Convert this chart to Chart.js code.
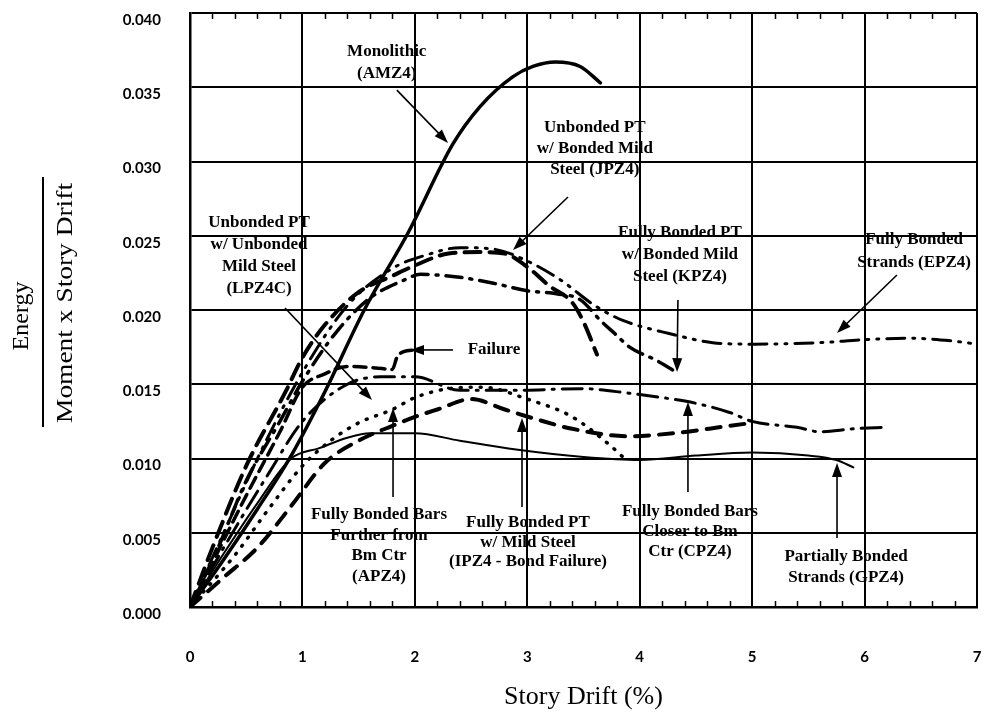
<!DOCTYPE html>
<html>
<head>
<meta charset="utf-8">
<script src="https://cdn.jsdelivr.net/npm/chart.js@4.4.1/dist/chart.umd.min.js"></script>
<style>
  body { margin: 0; background: #fff; }
  canvas { display: block; }
</style>
</head>
<body>
<canvas id="myChart" width="984" height="719"></canvas>
<script>
// story drift (%) and normalised energy
var amzDrift = [0, 0.3, 0.6, 0.9, 1.2, 1.55, 1.94, 2.34, 2.58, 2.87, 3.05, 3.25, 3.47, 3.65];
var amzEnergy = [0, 0.0032, 0.0066, 0.0102, 0.0145, 0.0200, 0.0252, 0.0312, 0.0337, 0.0357, 0.0364, 0.0367, 0.0364, 0.0353];

var gpzDrift = [0, 0.3, 0.6, 0.9, 1.15, 1.4, 1.6, 2.0, 2.4, 2.9, 3.5, 4.0, 4.5, 5.0, 5.5, 5.75, 5.9];
var gpzEnergy = [0, 0.0036, 0.0070, 0.0100, 0.0107, 0.0114, 0.0117, 0.0117, 0.0112, 0.0106, 0.0101, 0.0099, 0.0102, 0.0104, 0.0102, 0.0099, 0.0094];

var jpzDrift = [0, 0.2, 0.5, 0.85, 1.0, 1.2, 1.5, 1.8, 2.0, 2.3, 2.6, 2.8, 3.0, 3.2, 3.4, 3.5, 3.62];
var jpzEnergy = [0, 0.0040, 0.0095, 0.0145, 0.0168, 0.0190, 0.0212, 0.0223, 0.0230, 0.0238, 0.0239, 0.0238, 0.0229, 0.0216, 0.0205, 0.0192, 0.0170];

var epzDrift = [0, 0.3, 0.6, 1.0, 1.4, 1.8, 2.1, 2.4, 2.7, 3.0, 3.3, 3.6, 3.85, 4.27, 4.65, 5.0, 5.6, 6.0, 6.4, 6.8, 7.0];
var epzEnergy = [0, 0.0050, 0.0100, 0.0158, 0.0203, 0.0228, 0.0237, 0.0242, 0.0241, 0.0233, 0.0220, 0.0203, 0.0193, 0.0184, 0.0178, 0.0177, 0.0178, 0.0180, 0.0181, 0.0179, 0.0177];

var kpzDrift = [0, 0.25, 0.5, 0.8, 1.0, 1.3, 1.6, 1.9, 2.05, 2.4, 2.7, 3.0, 3.26, 3.47, 3.65, 3.78, 3.91, 4.15, 4.35];
var kpzEnergy = [0, 0.0040, 0.0085, 0.0125, 0.0152, 0.0185, 0.0208, 0.0220, 0.0224, 0.0222, 0.0218, 0.0213, 0.0211, 0.0207, 0.0193, 0.0184, 0.0175, 0.0166, 0.0157];

var lpzDrift = [0, 0.2, 0.5, 0.8, 1.0, 1.2, 1.4, 1.65, 1.8, 1.84, 1.9, 2.0];
var lpzEnergy = [0, 0.0030, 0.0075, 0.0118, 0.0148, 0.0157, 0.0162, 0.0161, 0.0160, 0.0168, 0.0172, 0.0173];

var apzDrift = [0, 0.4, 0.7, 1.0, 1.25, 1.5, 1.8, 2.0, 2.3, 2.6, 3.0, 3.4, 3.75, 3.85];
var apzEnergy = [0, 0.0035, 0.0066, 0.0095, 0.0112, 0.0124, 0.0133, 0.0141, 0.0147, 0.0148, 0.0140, 0.0128, 0.0108, 0.0101];

var cpzDrift = [0, 0.3, 0.7, 1.0, 1.4, 1.7, 2.0, 2.4, 2.9, 3.5, 3.9, 4.2, 4.45, 4.8, 5.0, 5.4, 5.6, 5.9, 6.2];
var cpzEnergy = [0, 0.0040, 0.0090, 0.0125, 0.0150, 0.0155, 0.0155, 0.0146, 0.0146, 0.0147, 0.0144, 0.0141, 0.0138, 0.0131, 0.0125, 0.0121, 0.0118, 0.0120, 0.0121];

var ipzDrift = [0, 0.3, 0.6, 0.9, 1.2, 1.5, 1.8, 2.0, 2.2, 2.5, 2.8, 3.1, 3.4, 3.9, 4.3, 4.8, 5.0];
var ipzEnergy = [0, 0.0020, 0.0040, 0.0068, 0.0097, 0.0112, 0.0122, 0.0128, 0.0133, 0.0140, 0.0133, 0.0126, 0.0120, 0.0115, 0.0117, 0.0122, 0.0124];

var xTicks = [0, 1, 2, 3, 4, 5, 6, 7];
var yTicks = [0, 0.005, 0.010, 0.015, 0.020, 0.025, 0.030, 0.035, 0.040];

// callout text, anchored in data units (x, y of first line)
var notes = [
	{ lines: ['Monolithic', '(AMZ4)'], x: 1.75, y: 0.03737, lh: 22, from: [1.84, 0.03481], to: [2.295, 0.03125] },
	{ lines: ['Unbonded PT', 'w/ Bonded Mild', 'Steel (JPZ4)'], x: 3.60, y: 0.03226, lh: 21, from: [3.362, 0.02761], to: [2.873, 0.02404] },
	{ lines: ['Unbonded PT', 'w/ Unbonded', 'Mild Steel', '(LPZ4C)'], x: 0.614, y: 0.02586, lh: 22, from: [0.845, 0.02013], to: [1.619, 0.01394] },
	{ lines: ['Failure'], x: 2.704, y: 0.01731, lh: 20, from: [2.339, 0.01731], to: [1.957, 0.01731] },
	{ lines: ['Fully Bonded Bars', 'Further from', 'Bm Ctr', '(APZ4)'], x: 1.681, y: 0.0062, lh: 20.5, from: [1.806, 0.00741], to: [1.806, 0.0134] },
	{ lines: ['Fully Bonded PT', 'w/ Mild Steel', '(IPZ4 - Bond Failure)'], x: 3.006, y: 0.00566, lh: 19.5, from: [2.953, 0.00673], to: [2.953, 0.01273] },
	{ lines: ['Fully Bonded Bars', 'Closer to Bm', 'Ctr (CPZ4)'], x: 4.447, y: 0.0064, lh: 20, from: [4.429, 0.00774], to: [4.429, 0.0138] },
	{ lines: ['Partially Bonded', 'Strands (GPZ4)'], x: 5.835, y: 0.00337, lh: 21, from: [5.755, 0.00465], to: [5.755, 0.0097] },
	{ lines: ['Fully Bonded PT', 'w/ Bonded Mild', 'Steel (KPZ4)'], x: 4.358, y: 0.02519, lh: 22, from: [4.34, 0.02067], to: [4.332, 0.01582] },
	{ lines: ['Fully Bonded', 'Strands (EPZ4)'], x: 6.44, y: 0.02471, lh: 23, from: [6.288, 0.02236], to: [5.755, 0.01845] }
];

function pts(xs, ys) {
	var out = [];
	for (var i = 0; i < xs.length; i++) out.push({ x: xs[i], y: ys[i] });
	return out;
}

function line(label, xs, ys, width, dash) {
	return {
		label: label,
		data: pts(xs, ys),
		showLine: true,
		borderColor: '#000',
		backgroundColor: '#000',
		borderWidth: width,
		borderDash: dash,
		borderCapStyle: 'round',
		pointRadius: 0,
		cubicInterpolationMode: 'monotone'
	};
}

var arrowsAndText = {
	id: 'arrowsAndText',
	afterDatasetsDraw: function (chart) {
		var ctx = chart.ctx;
		var xs = chart.scales.x, ys = chart.scales.y;
		var a = chart.chartArea;
		ctx.save();

		// small inward ticks every 0.2 on top and bottom edges
		ctx.strokeStyle = '#000';
		ctx.lineWidth = 1.5;
		ctx.setLineDash([]);
		for (var k = 1; k < 35; k++) {
			if (k % 5 === 0) continue;
			var px = Math.round(xs.getPixelForValue(k * 0.2)) + 0.5;
			ctx.beginPath();
			ctx.moveTo(px, a.bottom); ctx.lineTo(px, a.bottom - 6);
			ctx.moveTo(px, a.top); ctx.lineTo(px, a.top + 6);
			ctx.stroke();
		}

		ctx.fillStyle = '#000';
		ctx.textAlign = 'center';
		ctx.textBaseline = 'middle';
		ctx.font = 'bold 17px "Liberation Serif"';
		notes.forEach(function (n) {
			var cx = xs.getPixelForValue(n.x);
			var cy = ys.getPixelForValue(n.y);
			n.lines.forEach(function (t, i) {
				ctx.fillText(t, cx, cy + i * n.lh);
			});
			var x1 = xs.getPixelForValue(n.from[0]), y1 = ys.getPixelForValue(n.from[1]);
			var x2 = xs.getPixelForValue(n.to[0]), y2 = ys.getPixelForValue(n.to[1]);
			var ang = Math.atan2(y2 - y1, x2 - x1);
			var hl = 14, hw = 5;
			ctx.lineWidth = 1.6;
			ctx.beginPath();
			ctx.moveTo(x1, y1);
			ctx.lineTo(x2 - Math.cos(ang) * hl * 0.8, y2 - Math.sin(ang) * hl * 0.8);
			ctx.stroke();
			ctx.beginPath();
			ctx.moveTo(x2, y2);
			ctx.lineTo(x2 - Math.cos(ang) * hl - Math.sin(ang) * hw, y2 - Math.sin(ang) * hl + Math.cos(ang) * hw);
			ctx.lineTo(x2 - Math.cos(ang) * hl + Math.sin(ang) * hw, y2 - Math.sin(ang) * hl - Math.cos(ang) * hw);
			ctx.closePath();
			ctx.fill();
		});

		// y axis title as a fraction
		var mid = (a.top + a.bottom) / 2;
		ctx.font = '24px "Liberation Serif"';
		ctx.save();
		ctx.translate(22, mid + 6);
		ctx.rotate(-Math.PI / 2);
		ctx.fillText('Energy', 0, 0);
		ctx.restore();
		ctx.save();
		ctx.translate(66, mid - 7);
		ctx.rotate(-Math.PI / 2);
		var w = ctx.measureText('Moment x Story Drift').width;
		ctx.scale(240 / w, 1);
		ctx.fillText('Moment x Story Drift', 0, 0);
		ctx.restore();
		ctx.lineWidth = 2;
		ctx.beginPath();
		ctx.moveTo(43, mid - 133);
		ctx.lineTo(43, mid + 117);
		ctx.stroke();

		ctx.restore();
	}
};

const data = {
	datasets: [
		line('Monolithic (AMZ4)', amzDrift, amzEnergy, 3.5, []),
		line('Partially Bonded Strands (GPZ4)', gpzDrift, gpzEnergy, 2, []),
		line('Unbonded PT w/ Bonded Mild Steel (JPZ4)', jpzDrift, jpzEnergy, 4, [16, 9]),
		line('Fully Bonded Strands (EPZ4)', epzDrift, epzEnergy, 3, [18, 8, 2, 8, 2, 8]),
		line('Fully Bonded PT w/ Bonded Mild Steel (KPZ4)', kpzDrift, kpzEnergy, 3.5, [16, 8, 2, 8]),
		line('Unbonded PT w/ Unbonded Mild Steel (LPZ4C)', lpzDrift, lpzEnergy, 3.5, [12, 7]),
		line('Fully Bonded Bars Further from Bm Ctr (APZ4)', apzDrift, apzEnergy, 3.5, [1, 9]),
		line('Fully Bonded Bars Closer to Bm Ctr (CPZ4)', cpzDrift, cpzEnergy, 3, [20, 8, 2, 8]),
		line('Fully Bonded PT w/ Mild Steel (IPZ4)', ipzDrift, ipzEnergy, 4, [14, 10])
	]
};

const config = {
	type: 'scatter',
	data: data,
	plugins: [arrowsAndText],
	options: {
		responsive: false,
		animation: false,
		layout: { padding: { top: 13, right: 7, bottom: 0, left: 0 } },
		plugins: {
			legend: { display: false },
			tooltip: { enabled: false }
		},
		scales: {
			x: {
				type: 'linear',
				position: 'bottom',
				min: xTicks[0],
				max: xTicks[xTicks.length - 1],
				afterBuildTicks: function (s) { s.ticks = xTicks.map(function (v) { return { value: v }; }); },
				afterFit: function (s) { s.height = 112; },
				// invisible tick marks push the labels down without widening the side padding
				grid: { color: '#000', lineWidth: 2, drawTicks: true, tickLength: 41, tickColor: 'rgba(0,0,0,0)' },
				border: { color: '#000', width: 2.5 },
				ticks: {
					padding: 0,
					color: '#000',
					font: { family: 'Lato', weight: 'bold', size: 15 }
				},
				title: {
					display: true,
					text: 'Story Drift (%)',
					color: '#000',
					font: { family: 'Liberation Serif', size: 26 },
					padding: { top: 0, bottom: 6 }
				}
			},
			y: {
				min: yTicks[0],
				max: yTicks[yTicks.length - 1],
				afterBuildTicks: function (s) { s.ticks = yTicks.map(function (v) { return { value: v }; }); },
				afterFit: function (s) { s.width = 190; },
				grid: { color: '#000', lineWidth: 2, drawTicks: true, tickLength: 29, tickColor: 'rgba(0,0,0,0)' },
				border: { color: '#000', width: 2.5 },
				ticks: {
					padding: 0,
					labelOffset: 7,
					color: '#000',
					font: { family: 'Lato', weight: 'bold', size: 15 },
					callback: function (v) { return v.toFixed(3); }
				}
			}
		}
	}
};

const myChart = new Chart(document.getElementById('myChart'), config);
</script>
</body>
</html>
